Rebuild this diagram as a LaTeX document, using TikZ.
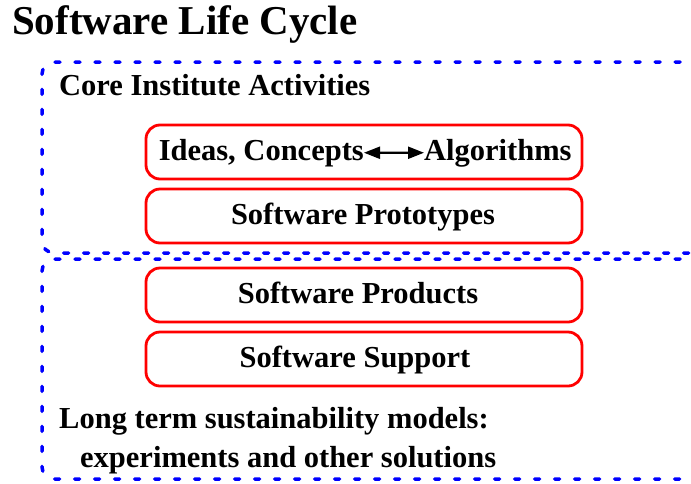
\documentclass[tikz,border=0pt]{standalone}
\usepackage{fontspec}
\setmainfont{Liberation Serif}
\usetikzlibrary{arrows.meta,positioning}

\tikzset{
  redbox/.style={draw=red, line width=2.8pt, rounded corners=14pt, minimum width=436pt, minimum height=54pt},
  bluedot/.style={draw=blue, line width=3.5pt, dash pattern=on 5pt off 15pt, line cap=round, rounded corners=12pt},
  lbl/.style={font=\fontsize{30.5}{34}\selectfont\bfseries, inner sep=0pt}
}

\begin{document}
\begin{tikzpicture}[x=1pt,y=-1pt]
  \clip (0,0) rectangle (691,483);
  \useasboundingbox (0,0) rectangle (691,483);

  % title
  \node[anchor=base west, font=\fontsize{41}{46}\selectfont\bfseries, inner sep=0pt] (title) at (12,34) {Software Life Cycle};

  % the two dotted regions
  \draw[bluedot] (720,62) -- (42,62) -- (42,253) -- (720,253);
  \draw[bluedot] (720,259) -- (42,259) -- (42,479) -- (720,479);

  \node[lbl, anchor=base west] (core) at (59,95) {Core Institute Activities};

  % boxes
  \node[redbox] (ideasbox) at (364,152) {};
  \node[redbox] (proto) at (364,216) {};
  \node[redbox] (prod) at (364,295) {};
  \node[redbox] (supp) at (364,359) {};

  \node[lbl, anchor=base east] (ideas) at (364,160) {Ideas, Concepts};
  \node[lbl, anchor=base west] (algo) at (424,160) {Algorithms};
  \draw[{Triangle[length=16pt,width=12pt]}-{Triangle[length=16pt,width=12pt]}, line width=2.2pt] (ideas) -- (algo);

  \node[lbl, anchor=base] at (363,224) {Software Prototypes};
  \node[lbl, anchor=base] at (358,303) {Software Products};
  \node[lbl, anchor=base] at (355,367) {Software Support};

  % sustainability
  \node[lbl, anchor=base west] (long) at (59,428) {Long term sustainability models:};
  \node[lbl, anchor=base west] (exp) at (80,467) {experiments and other solutions};
\end{tikzpicture}
\end{document}
